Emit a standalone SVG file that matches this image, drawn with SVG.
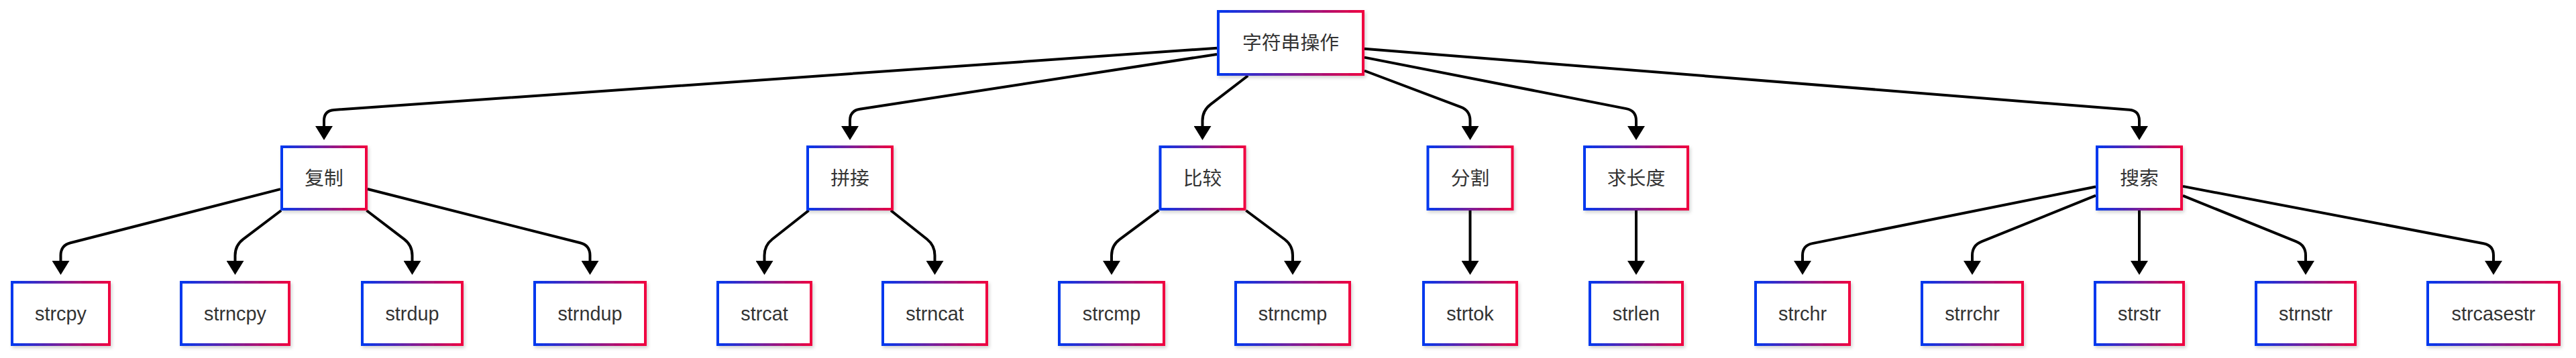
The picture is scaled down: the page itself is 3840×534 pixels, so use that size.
<svg xmlns="http://www.w3.org/2000/svg" width="3840" height="534" viewBox="0 0 3840 534">
<defs>
<linearGradient id="g" x1="0" y1="0" x2="1" y2="0">
<stop offset="0" stop-color="#0038ef"/>
<stop offset="0.5" stop-color="#7a1f9a"/>
<stop offset="1" stop-color="#f0003f"/>
</linearGradient>
<filter id="sh" x="-10%" y="-10%" width="130%" height="140%">
<feDropShadow dx="2" dy="3" stdDeviation="2.5" flood-color="#000" flood-opacity="0.18"/>
</filter>
<marker id="ah" markerUnits="userSpaceOnUse" markerWidth="22" markerHeight="26" refX="0" refY="13" orient="auto" viewBox="0 0 22 26">
<path d="M0,0 L21,13 L0,26 Z" fill="#000"/>
</marker>
<style>
.n rect{fill:#fff;stroke:url(#g);stroke-width:4;filter:url(#sh)}
.n text{font-family:"Liberation Sans","Noto Sans CJK SC",sans-serif;font-size:28.8px;fill:#333;text-anchor:middle}
.e path{fill:none;stroke:#000;stroke-width:4;marker-end:url(#ah)}
</style>
</defs>
<rect width="3840" height="534" fill="#fff"/>
<g id="edges" class="e">
<path d="M1814,71.7 L497.96,163.95 Q483,165 483,180 L483,188"/>
<path d="M1814,80.9 L1281.8,162.7 Q1267,165 1267,180 L1267,188"/>
<path d="M1860.2,113 L1804.4,155.9 Q1792.5,165 1792.5,180 L1792.5,188"/>
<path d="M2034,105.5 L2177.5,159.7 Q2191.5,165 2191.5,180 L2191.5,188"/>
<path d="M2034,85.6 L2424.3,162.1 Q2439,165 2439,180 L2439,188"/>
<path d="M2034,72.8 L3174.05,163.8 Q3189,165 3189,180 L3189,188"/>
<path d="M418,282.1 L105,362.3 Q90.5,366 90.5,381 L90.5,389"/>
<path d="M419.1,314 L362.45,356.9 Q350.5,366 350.5,381 L350.5,389"/>
<path d="M546.5,314 L602.6,356.9 Q614.5,366 614.5,381 L614.5,389"/>
<path d="M548,282 L864.96,362.3 Q879.5,366 879.5,381 L879.5,389"/>
<path d="M1205.5,314 L1151.3,356.7 Q1139.5,366 1139.5,381 L1139.5,389"/>
<path d="M1328.05,314 L1381.8,356.7 Q1393.5,366 1393.5,381 L1393.5,389"/>
<path d="M1727.5,313.7 L1669.05,357.1 Q1657,366 1657,381 L1657,389"/>
<path d="M1857.4,314 L1914.98,357 Q1927,366 1927,381 L1927,389"/>
<path d="M2191.5,314 L2191.5,389"/>
<path d="M2439,314 L2439,389"/>
<path d="M3124,278.5 L2701.7,363.1 Q2687,366 2687,381 L2687,389"/>
<path d="M3124,291.7 L2953.9,360.4 Q2940,366 2940,381 L2940,389"/>
<path d="M3189,314 L3189,389"/>
<path d="M3254,291.8 L3423.1,360.4 Q3437,366 3437,381 L3437,389"/>
<path d="M3254,277.9 L3702.3,363.2 Q3717,366 3717,381 L3717,389"/>
</g>
<g id="root" class="n"><rect x="1816" y="17" width="216" height="94"/><text x="1924" y="74">字符串操作</text></g>
<g id="copy" class="n"><rect x="420" y="219" width="126" height="93"/><text x="483" y="275.5">复制</text></g>
<g id="concat" class="n"><rect x="1204" y="219" width="126" height="93"/><text x="1267" y="275.5">拼接</text></g>
<g id="compare" class="n"><rect x="1729.5" y="219" width="126" height="93"/><text x="1792.5" y="275.5">比较</text></g>
<g id="split" class="n"><rect x="2128.5" y="219" width="126" height="93"/><text x="2191.5" y="275.5">分割</text></g>
<g id="length" class="n"><rect x="2362" y="219" width="154" height="93"/><text x="2439" y="275.5">求长度</text></g>
<g id="search" class="n"><rect x="3126" y="219" width="126" height="93"/><text x="3189" y="275.5">搜索</text></g>
<g id="strcpy" class="n"><rect x="18" y="421" width="145" height="93"/><text x="90.5" y="477.5">strcpy</text></g>
<g id="strncpy" class="n"><rect x="270" y="421" width="161" height="93"/><text x="350.5" y="477.5">strncpy</text></g>
<g id="strdup" class="n"><rect x="540" y="421" width="149" height="93"/><text x="614.5" y="477.5">strdup</text></g>
<g id="strndup" class="n"><rect x="797" y="421" width="165" height="93"/><text x="879.5" y="477.5">strndup</text></g>
<g id="strcat" class="n"><rect x="1070" y="421" width="139" height="93"/><text x="1139.5" y="477.5">strcat</text></g>
<g id="strncat" class="n"><rect x="1316" y="421" width="155" height="93"/><text x="1393.5" y="477.5">strncat</text></g>
<g id="strcmp" class="n"><rect x="1579" y="421" width="156" height="93"/><text x="1657" y="477.5">strcmp</text></g>
<g id="strncmp" class="n"><rect x="1842" y="421" width="170" height="93"/><text x="1927" y="477.5">strncmp</text></g>
<g id="strtok" class="n"><rect x="2122" y="421" width="139" height="93"/><text x="2191.5" y="477.5">strtok</text></g>
<g id="strlen" class="n"><rect x="2370" y="421" width="138" height="93"/><text x="2439" y="477.5">strlen</text></g>
<g id="strchr" class="n"><rect x="2617" y="421" width="140" height="93"/><text x="2687" y="477.5">strchr</text></g>
<g id="strrchr" class="n"><rect x="2865" y="421" width="150" height="93"/><text x="2940" y="477.5">strrchr</text></g>
<g id="strstr" class="n"><rect x="3123" y="421" width="132" height="93"/><text x="3189" y="477.5">strstr</text></g>
<g id="strnstr" class="n"><rect x="3363" y="421" width="148" height="93"/><text x="3437" y="477.5">strnstr</text></g>
<g id="strcasestr" class="n"><rect x="3619" y="421" width="196" height="93"/><text x="3717" y="477.5">strcasestr</text></g>
</svg>
